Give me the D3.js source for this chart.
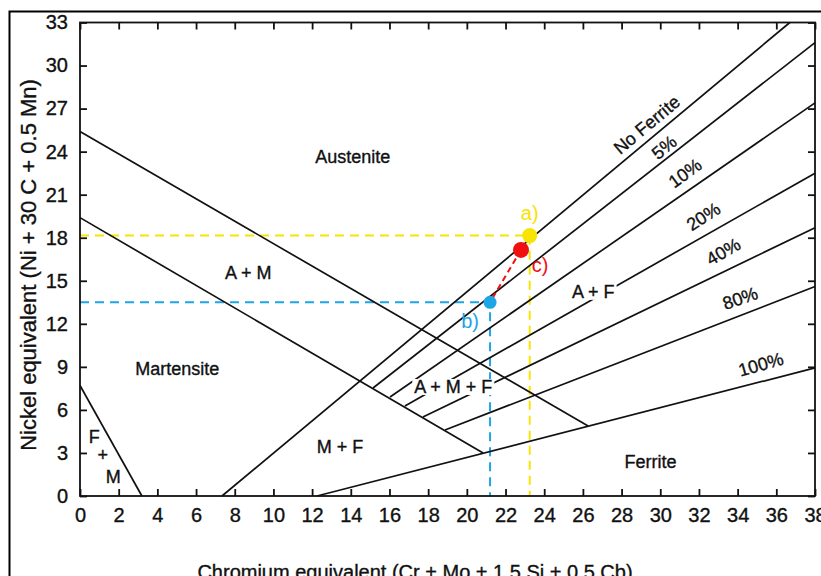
<!DOCTYPE html>
<html>
<head>
<meta charset="utf-8">
<script src="https://cdn.jsdelivr.net/npm/d3@7/dist/d3.min.js"></script>
<style>
body{margin:0;background:#fff}
text{font-family:"Liberation Sans",Arial,Helvetica,sans-serif;fill:#111}
.ink{stroke:#111;stroke-width:0.35px}
</style>
</head>
<body>
<div id="chart"></div>
<script>
// phase boundaries, [Cr equivalent, Ni equivalent]
const noFerrite  = [[7.34, 0], [36.7, 33]];
const ferrite5   = [[15.15, 7.53], [38, 31.6]];
const ferrite10  = [[16.03, 6.9], [38, 27.4]];
const ferrite20  = [[16.8, 6.28], [38, 22.5]];
const ferrite40  = [[17.73, 5.5], [38, 18.7]];
const ferrite80  = [[18.87, 4.6], [38, 14.6]];
const ferrite100 = [[12.25, 0], [38, 8.93]];
const martUpper  = [[0, 25.4], [26.27, 4.88]];
const martLower  = [[0, 19.4], [20.84, 3.0]];
const fmLine     = [[0, 7.7], [3.2, 0]];

const xTicks = [0, 2, 4, 6, 8, 10, 12, 14, 16, 18, 20, 22, 24, 26, 28, 30, 32, 34, 36, 38];
const yTicks = [0, 3, 6, 9, 12, 15, 18, 21, 24, 27, 30, 33];

// region names and where they sit (data units)
const regionNames = ["Austenite", "A + M", "Martensite", "F", "+", "M", "M + F", "A + M + F", "A + F", "Ferrite"];
const regionX = [14.1, 8.7, 5.03, 0.74, 1.17, 1.72, 13.44, 19.3, 26.54, 29.5];
const regionY = [23.66, 15.53, 8.9, 4.14, 2.86, 1.35, 3.44, 7.62, 14.25, 2.39];

// ferrite percentage labels
const ferriteNames = ["No Ferrite", "5%", "10%", "20%", "40%", "80%", "100%"];
const ferriteX = [29.3, 30.2, 31.28, 32.23, 33.26, 34.13, 35.2];
const ferriteY = [25.87, 24.3, 22.5, 19.48, 17.04, 13.79, 9.18];
const ferriteAngle = [-40, -39, -36, -33, -30, -19, -16];

// weld points a), b), c)
const pointNames = ["a)", "b)", "c)"];
const pointX = [23.25, 21.2, 22.8];
const pointY = [18.15, 13.5, 17.15];

var w = 821, h = 576;
var svg = d3.select("#chart").append("svg").attr("width", w).attr("height", h);

var x = d3.scaleLinear().domain([0, 38]).range([80, 815]);
var y = d3.scaleLinear().domain([0, 33]).range([496, 22.5]);

// outer frame of the figure
svg.append("rect").attr("x", 9.5).attr("y", 11.5).attr("width", 840).attr("height", 600)
   .attr("fill", "none").attr("stroke", "#000").attr("stroke-width", 2);

var line = d3.line().x(d => x(d[0])).y(d => y(d[1]));

// coloured guide lines
var yellow = "#f7e400", blue = "#1ea5e6", red = "#f01010";
var guides = [
  {c: yellow, p: [[0, pointY[0]], [pointX[0], pointY[0]], [pointX[0], 0]]},
  {c: blue, p: [[0, pointY[1]], [pointX[1], pointY[1]], [pointX[1], 0]]}
];
guides.forEach(g => {
  svg.append("path").attr("d", line(g.p)).attr("fill", "none")
     .attr("stroke", g.c).attr("stroke-width", 2).attr("stroke-dasharray", "9,6");
});

// boundaries
var bounds = [noFerrite, ferrite5, ferrite10, ferrite20, ferrite40, ferrite80, ferrite100, martUpper, martLower, fmLine];
svg.selectAll(".bound").data(bounds).enter().append("path")
   .attr("class", "bound").attr("d", line)
   .attr("fill", "none").attr("stroke", "#111").attr("stroke-width", 1.7);

// region labels (some break the lines behind them)
var regions = regionNames.map((n, i) => ({n: n, x: regionX[i], y: regionY[i]}));
var rg = svg.selectAll(".region").data(regions).enter().append("g").attr("class", "region")
   .attr("transform", d => "translate(" + x(d.x) + "," + y(d.y) + ")");
rg.append("text").attr("class", "ink").attr("text-anchor", "middle").attr("dy", "0.35em")
   .style("font-size", "18px").text(d => d.n);
rg.filter(d => d.n == "A + M + F" || d.n == "A + F").each(function() {
  var g = d3.select(this), b = g.select("text").node().getBBox();
  g.insert("rect", "text").attr("x", b.x - 2).attr("y", b.y + 2)
   .attr("width", b.width + 4).attr("height", b.height - 4).attr("fill", "#fff");
});

// ferrite % labels
svg.selectAll(".fl").data(ferriteNames).enter().append("text")
   .attr("class", "fl ink").attr("text-anchor", "middle").attr("dy", "0.35em")
   .attr("transform", (d, i) => "translate(" + x(ferriteX[i]) + "," + y(ferriteY[i]) + ") rotate(" + ferriteAngle[i] + ")")
   .style("font-size", "18px").text(d => d);

// red dashed link c) -> b)
svg.append("path").attr("d", line([[pointX[2], pointY[2]], [pointX[1], pointY[1]]]))
   .attr("stroke", red).attr("stroke-width", 2).attr("stroke-dasharray", "6,4").attr("fill", "none");

var pColors = [yellow, blue, red];
var pR = [7.5, 6.5, 8];
svg.selectAll(".pt").data(pointNames).enter().append("circle")
   .attr("cx", (d, i) => x(pointX[i])).attr("cy", (d, i) => y(pointY[i]))
   .attr("r", (d, i) => pR[i]).attr("fill", (d, i) => pColors[i]);

var pLabelDx = [0, -20, 19], pLabelDy = [-23, 19, 15];
svg.selectAll(".pl").data(pointNames).enter().append("text")
   .attr("x", (d, i) => x(pointX[i]) + pLabelDx[i]).attr("y", (d, i) => y(pointY[i]) + pLabelDy[i])
   .attr("text-anchor", "middle").attr("dy", "0.35em")
   .style("font-size", "20px").style("fill", (d, i) => pColors[i]).text(d => d);

// axes, ticks point inward
var axL = svg.append("g").attr("transform", "translate(80,0)")
   .call(d3.axisLeft(y).tickValues(yTicks).tickSize(-7).tickPadding(12));
var axB = svg.append("g").attr("transform", "translate(0,496)")
   .call(d3.axisBottom(x).tickValues(xTicks).tickSize(-7).tickPadding(12));
var axT = svg.append("g").attr("transform", "translate(0,22.5)")
   .call(d3.axisTop(x).tickValues(xTicks).tickSize(-7).tickFormat(""));
var axR = svg.append("g").attr("transform", "translate(815,0)")
   .call(d3.axisRight(y).tickValues(yTicks).tickSize(-7).tickFormat(""));
[axL, axB, axT, axR].forEach(a => {
  a.select(".domain").remove();
  a.selectAll("line").attr("stroke", "#111").attr("stroke-width", 1.8);
  a.selectAll("text").attr("class", "ink").style("font-size", "20px")
   .style("font-family", "'Liberation Sans',Arial,sans-serif").attr("fill", "#111");
});

svg.append("rect").attr("x", x(0)).attr("y", y(33)).attr("width", x(38) - x(0)).attr("height", y(0) - y(33))
   .attr("fill", "none").attr("stroke", "#111").attr("stroke-width", 1.8);

// axis titles
svg.append("text").attr("class", "ink").attr("transform", "translate(28,265) rotate(-90)")
   .attr("text-anchor", "middle").attr("dy", "0.35em").style("font-size", "22px")
   .text("Nickel equivalent (Ni + 30 C + 0.5 Mn)");
svg.append("text").attr("class", "ink").attr("x", 415).attr("y", 579).attr("text-anchor", "middle")
   .style("font-size", "20px").text("Chromium equivalent (Cr + Mo + 1.5 Si + 0.5 Cb)");
</script>
</body>
</html>
